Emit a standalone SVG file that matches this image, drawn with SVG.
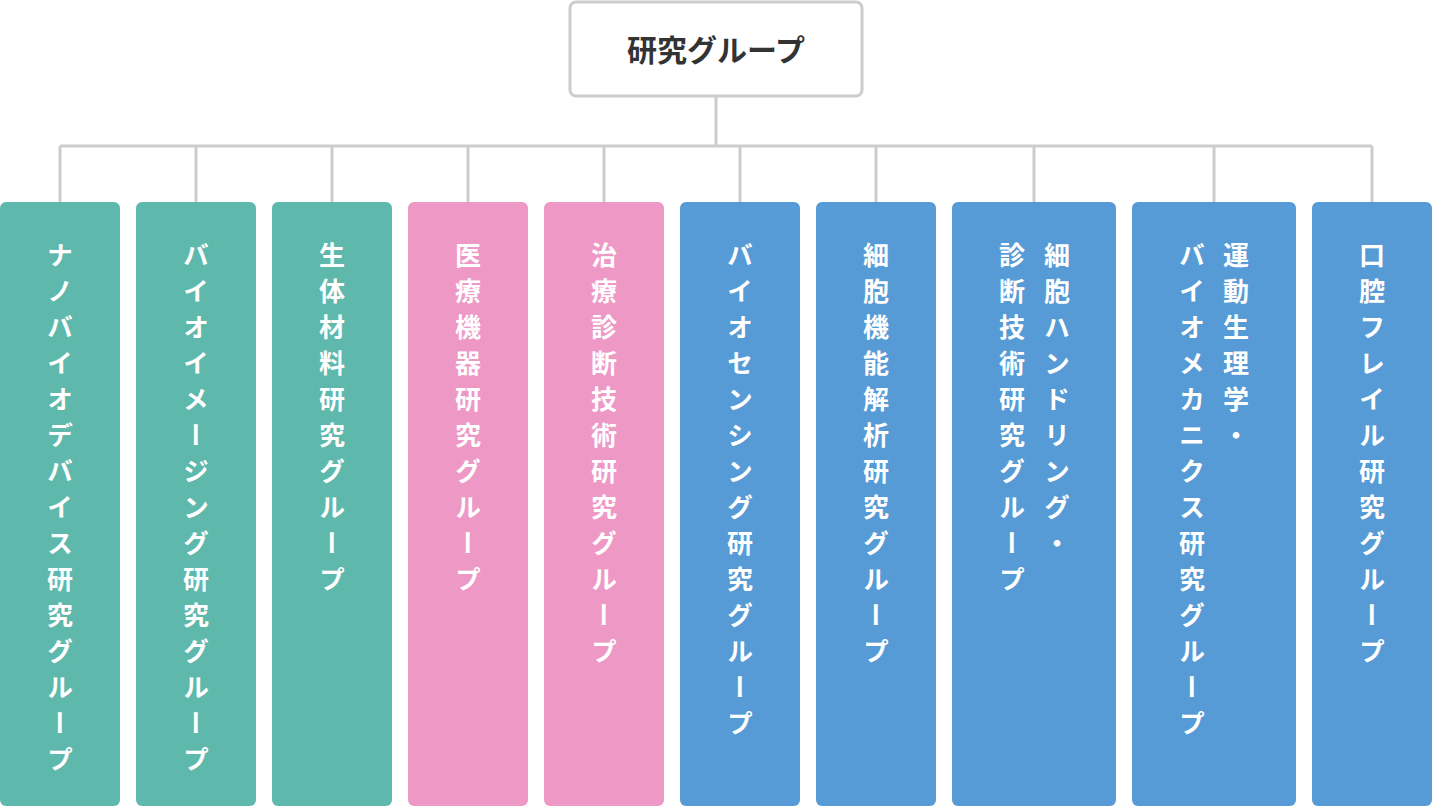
<svg xmlns="http://www.w3.org/2000/svg" width="1432" height="806" viewBox="0 0 1432 806">
<style>
.v{font-family:"Noto Sans CJK JP","Noto Sans",sans-serif;font-weight:bold;font-size:26px;fill:#fff;writing-mode:vertical-rl;letter-spacing:10px}
.g{fill:#5fb8ac}.p{fill:#ee98c6}.b{fill:#569bd5}
.c{stroke:#cccccc;stroke-width:3;fill:none}
</style>
<rect width="1432" height="806" fill="#fff"/>
<g id="connectors" class="c">
<path d="M716 96V146M60 146H1372M60 146V202M196 146V202M332 146V202M468 146V202M604 146V202M740 146V202M876 146V202M1034 146V202M1214 146V202M1372 146V202"/>
</g>
<g id="root"><rect x="570" y="2" width="292" height="94" rx="6" fill="#fff" stroke="#cccccc" stroke-width="3"/>
<text x="716" y="61" text-anchor="middle" font-family="Noto Sans CJK JP,sans-serif" font-weight="bold" font-size="30" fill="#333">研究グループ</text></g>
<g id="n1"><rect class="g" x="0" y="202" width="120" height="604" rx="6"/><text class="v" x="60" y="242">ナノバイオデバイス研究グループ</text></g>
<g id="n2"><rect class="g" x="136" y="202" width="120" height="604" rx="6"/><text class="v" x="196" y="242">バイオイメージング研究グループ</text></g>
<g id="n3"><rect class="g" x="272" y="202" width="120" height="604" rx="6"/><text class="v" x="332" y="242">生体材料研究グループ</text></g>
<g id="n4"><rect class="p" x="408" y="202" width="120" height="604" rx="6"/><text class="v" x="468" y="242">医療機器研究グループ</text></g>
<g id="n5"><rect class="p" x="544" y="202" width="120" height="604" rx="6"/><text class="v" x="604" y="242">治療診断技術研究グループ</text></g>
<g id="n6"><rect class="b" x="680" y="202" width="120" height="604" rx="6"/><text class="v" x="740" y="242">バイオセンシング研究グループ</text></g>
<g id="n7"><rect class="b" x="816" y="202" width="120" height="604" rx="6"/><text class="v" x="876" y="242">細胞機能解析研究グループ</text></g>
<g id="n8"><rect class="b" x="952" y="202" width="164" height="604" rx="6"/><text class="v" x="1057" y="242">細胞ハンドリング・</text><text class="v" x="1012" y="242">診断技術研究グループ</text></g>
<g id="n9"><rect class="b" x="1132" y="202" width="164" height="604" rx="6"/><text class="v" x="1236" y="242">運動生理学・</text><text class="v" x="1192" y="242">バイオメカニクス研究グループ</text></g>
<g id="n10"><rect class="b" x="1312" y="202" width="120" height="604" rx="6"/><text class="v" x="1372" y="242">口腔フレイル研究グループ</text></g>
</svg>
